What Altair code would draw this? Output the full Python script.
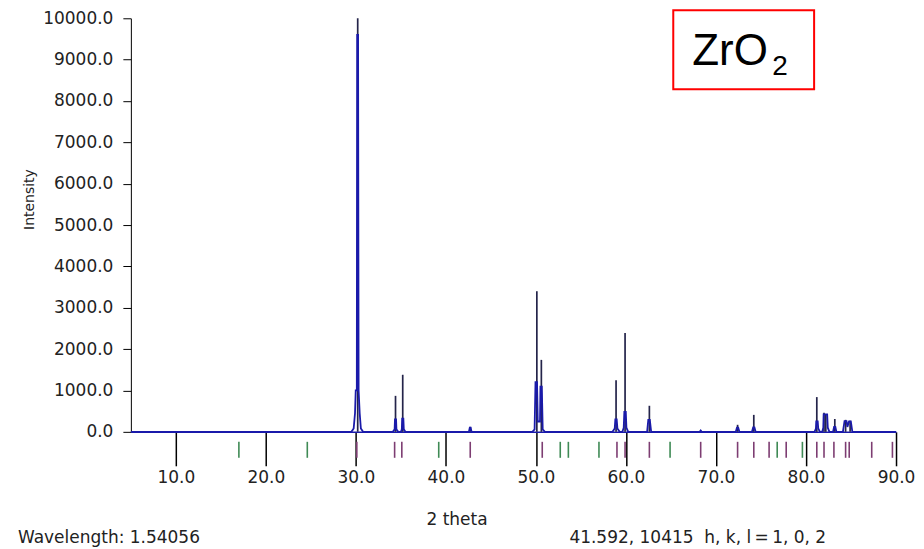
import altair as alt
import pandas as pd

# ---- data ----
profile_x = [5.0, 29.5, 29.75, 29.9, 29.98, 30.1, 30.14, 30.24, 30.3, 30.42, 30.55, 30.8,
             34.1, 34.3, 34.34, 34.46, 34.5, 34.7, 35.0, 35.1, 35.14, 35.27, 35.32, 35.5,
             42.55, 42.65, 42.75, 42.85,
             49.6, 49.85, 49.95, 50.12, 50.2, 50.45, 50.5, 50.65, 50.75, 51.0,
             58.5, 58.75, 58.82, 58.97, 59.05, 59.3, 59.6, 59.75, 59.82, 59.98, 60.05, 60.25,
             62.35, 62.48, 62.65, 62.8,
             68.2, 68.3, 68.4,
             72.2, 72.33, 72.47, 72.6,
             74.0, 74.13, 74.27, 74.4,
             80.95, 81.1, 81.14, 81.3, 81.36, 81.55, 81.8, 81.92, 81.96, 82.35, 82.42, 82.6,
             83.0, 83.12, 83.26, 83.38,
             84.1, 84.28, 84.5, 84.6, 84.78, 84.98, 85.15,
             90.0]
profile_y = [0, 0, 80, 450, 1000, 1000, 9600, 9600, 1000, 450, 80, 0,
             0, 60, 300, 300, 60, 0, 0, 60, 320, 320, 60, 0,
             0, 100, 100, 0,
             0, 60, 1200, 1200, 250, 250, 1090, 1090, 60, 0,
             0, 80, 300, 300, 80, 0, 0, 100, 480, 480, 100, 0,
             0, 290, 290, 0,
             0, 30, 0,
             0, 100, 100, 0,
             0, 110, 110, 0,
             0, 80, 250, 250, 80, 0, 0, 100, 420, 420, 100, 0,
             0, 120, 120, 0,
             0, 260, 260, 120, 250, 250, 0,
             0]

stick_x = [30.2, 34.4, 35.2, 42.7, 50.1, 50.6, 58.9, 59.9, 62.6, 68.3, 72.4, 74.2,
           81.2, 82.0, 82.2, 83.2, 84.4, 84.9]
stick_y = [10000, 870, 1380, 120, 3400, 1740, 1250, 2390, 630, 30, 170, 410,
           840, 460, 410, 310, 290, 270]

green_x = [17.0, 24.6, 39.2, 52.7, 53.6, 57.0, 64.9, 76.8, 79.6]
purple_x = [30.1, 34.3, 35.1, 42.7, 50.7, 59.0, 59.9, 62.6, 68.3, 72.4, 74.2, 75.9,
            77.8, 81.2, 82.0, 83.1, 84.4, 84.8, 87.3, 89.6]

x_ticks = [10, 20, 30, 40, 50, 60, 70, 80, 90]
y_ticks = [0, 1000, 2000, 3000, 4000, 5000, 6000, 7000, 8000, 9000, 10000]

FONT = "DejaVu Sans"

prof = pd.DataFrame({"t": profile_x, "I": profile_y})
sticks = pd.DataFrame({"t": stick_x, "I": stick_y})
refl = pd.DataFrame({"t": green_x + purple_x,
                     "phase": ["g"] * len(green_x) + ["p"] * len(purple_x)})

xscale = alt.Scale(domain=[5, 90], nice=False, zero=False)
yscale = alt.Scale(domain=[0, 10000], nice=False)

xaxis = alt.Axis(values=x_ticks, format=".1f", tickSize=34, tickColor="black",
                 tickWidth=1.5, domainColor="#1a1aaa", domainWidth=1.5,
                 labelFont=FONT, labelFontSize=17, labelColor="#222",
                 labelPadding=4, labelFlush=False, grid=False,
                 title="2 theta", titleFont=FONT, titleFontSize=17,
                 titleFontWeight="normal", titleColor="#222",
                 titleX=326, titleY=88, titleAlign="center", titleBaseline="middle")
yaxis = alt.Axis(values=y_ticks, format=".1f", tickSize=8, tickColor="black",
                 domainColor="black", labelFont=FONT, labelFontSize=17,
                 labelColor="#222", labelPadding=10, labelFlush=False, grid=False,
                 title="Intensity", titleFont=FONT, titleFontSize=14,
                 titleFontWeight="normal", titleColor="#222",
                 titleX=-101, titleY=181, titleAlign="center",
                 titleBaseline="middle", titleAngle=270)

stick_layer = alt.Chart(sticks).mark_rule(color="#24244a", strokeWidth=1.7).encode(
    x=alt.X("t:Q", scale=xscale, axis=xaxis),
    y=alt.Y("I:Q", scale=yscale, axis=yaxis),
    y2=alt.datum(0),
)

profile_layer = alt.Chart(prof).mark_line(color="#1a1aaa", strokeWidth=1.8).encode(
    x=alt.X("t:Q", scale=xscale),
    y=alt.Y("I:Q", scale=yscale),
)

refl_layer = alt.Chart(refl).mark_rule(strokeWidth=1.6).encode(
    x=alt.X("t:Q", scale=xscale),
    y=alt.value(424),
    y2=alt.value(440),
    color=alt.Color("phase:N", legend=None,
                    scale=alt.Scale(domain=["g", "p"], range=["#3f8a55", "#7d3d72"])),
)

one = alt.Data(values=[{}])
wave_txt = alt.Chart(one).mark_text(align="left", baseline="middle", font=FONT,
                                    fontSize=17, color="#222").encode(
    x=alt.value(-113), y=alt.value(520), text=alt.value("Wavelength: 1.54056"))
hkl_txt = alt.Chart(one).mark_text(align="left", baseline="middle", font=FONT,
                                   fontSize=17, color="#222").encode(
    x=alt.value(439), y=alt.value(520),
    text=alt.value("41.592, 10415\u00a0 h, k, l\u2009=\u20091, 0, 2"))

box = alt.Chart(one).mark_rect(fill="white", stroke="#ff0000", strokeWidth=2).encode(
    x=alt.value(543), x2=alt.value(684), y=alt.value(-8), y2=alt.value(71))
zr_txt = alt.Chart(one).mark_text(align="left", baseline="alphabetic",
                                  font="Liberation Sans", fontSize=44, color="black").encode(
    x=alt.value(562), y=alt.value(47), text=alt.value("ZrO"))
sub_txt = alt.Chart(one).mark_text(align="left", baseline="alphabetic",
                                   font="Liberation Sans", fontSize=28, color="black").encode(
    x=alt.value(642), y=alt.value(57), text=alt.value("2"))

chart = alt.layer(
    stick_layer, profile_layer, refl_layer, wave_txt, hkl_txt, box, zr_txt, sub_txt
).properties(
    width=766, height=414,
    autosize=alt.AutoSizeParams(type="none"),
    padding={"left": 123, "top": 10, "right": 20, "bottom": 115},
    background="white",
).configure_view(stroke=None)

chart.save("out.html", embed_options={"renderer": "svg", "actions": False})
